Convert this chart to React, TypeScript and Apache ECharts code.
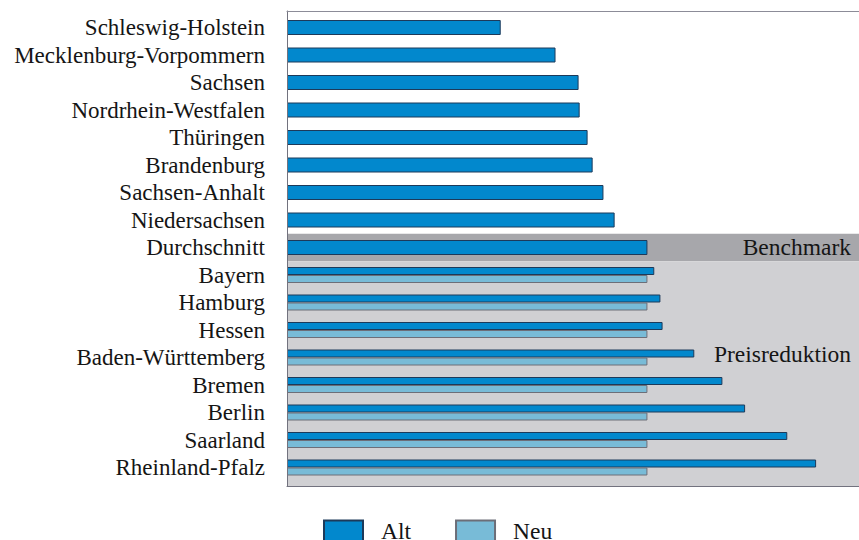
import React, { useEffect, useRef } from "react";
import * as echarts from "echarts";

const categories = [
  "Schleswig-Holstein",
  "Mecklenburg-Vorpommern",
  "Sachsen",
  "Nordrhein-Westfalen",
  "Thüringen",
  "Brandenburg",
  "Sachsen-Anhalt",
  "Niedersachsen",
  "Durchschnitt",
  "Bayern",
  "Hamburg",
  "Hessen",
  "Baden-Württemberg",
  "Bremen",
  "Berlin",
  "Saarland",
  "Rheinland-Pfalz",
];

// Index values (Durchschnitt = 100)
const altValues = [59.3, 74.5, 80.9, 81.2, 83.4, 84.8, 87.8, 90.9, 100, 101.9, 103.6, 104.2, 113.0, 120.8, 127.1, 138.8, 146.8];
const neuValues: (number | null)[] = [null, null, null, null, null, null, null, null, null, 100, 100, 100, 100, 100, 100, 100, 100];

const benchmarkLabel = "Benchmark";
const reductionLabel = "Preisreduktion";
const benchmarkIndex = 8;

const FONT = "'Liberation Serif', 'Times New Roman', serif";
const TEXT = "#151515";
const ALT_COLOR = "#0288cd";
const ALT_BORDER = "#1d3a5a";
const NEU_COLOR = "#78bbd7";
const NEU_BORDER = "#6c6e78";
const FRAME = "#72727e";
const BAND_DARK = "#a7a7ab";
const BAND_LIGHT = "#d0d0d3";

export default function App() {
  const ref = useRef<HTMLDivElement>(null);
  useEffect(() => {
    if (!ref.current) return;
    const chart = echarts.init(ref.current, null, { renderer: "svg" });

    const altSingle = altValues.map((v, i) => (neuValues[i] == null ? v : null));
    const altPair = altValues.map((v, i) => (neuValues[i] == null ? null : v));
    const n = categories.length;
    const bandMax = n + 0.173;

    const hiddenAxis = {
      axisTick: { show: false },
      axisLabel: { show: false },
      splitLine: { show: false },
    };

    chart.setOption({
      animation: false,
      backgroundColor: "#ffffff",
      grid: [
        { left: 287, right: -1, top: 11, bottom: 54 },
        { left: 287, right: -1, top: 13.75, height: 467.5 },
      ],
      xAxis: [
        {
          gridIndex: 0, type: "value", min: 0, max: 1, position: "bottom", z: 10,
          axisLine: { show: true, onZero: false, lineStyle: { color: FRAME, width: 1 } },
          ...hiddenAxis,
        },
        {
          gridIndex: 0, type: "value", min: 0, max: 1, position: "top", z: 10,
          axisLine: { show: true, onZero: false, lineStyle: { color: "#8c8c98", width: 1 } },
          ...hiddenAxis,
        },
        { gridIndex: 1, type: "value", min: 0, max: 158.7, show: false },
      ],
      yAxis: [
        {
          gridIndex: 0, type: "value", inverse: true, min: -0.1, max: bandMax, z: 10,
          axisLine: { show: true, onZero: false, lineStyle: { color: FRAME, width: 1 } },
          ...hiddenAxis,
        },
        {
          gridIndex: 1, type: "category", data: categories, inverse: true,
          axisLine: { show: false }, axisTick: { show: false }, splitLine: { show: false },
          axisLabel: { interval: 0, margin: 22, fontSize: 23, fontFamily: FONT, color: TEXT },
        },
        { gridIndex: 1, type: "category", data: categories, inverse: true, show: false },
      ],
      legend: {
        data: ["Alt", "Neu"],
        left: 323,
        top: 519,
        padding: 0,
        itemWidth: 39,
        itemHeight: 21,
        itemGap: 44,
        icon: "rect",
        selectedMode: false,
        textStyle: { fontSize: 23.5, lineHeight: 18, fontFamily: FONT, color: TEXT, padding: [0, 0, 4, 13] },
      },
      series: [
        {
          type: "scatter",
          xAxisIndex: 0,
          yAxisIndex: 0,
          symbolSize: 0,
          silent: true,
          data: [[0.5, -0.05]],
          markArea: {
            silent: true,
            data: [
              [
                {
                  yAxis: benchmarkIndex,
                  itemStyle: { color: BAND_DARK, opacity: 1 },
                  label: {
                    show: true, formatter: benchmarkLabel, position: "insideRight", distance: 8,
                    fontSize: 23.5, fontFamily: FONT, color: TEXT,
                  },
                },
                { yAxis: benchmarkIndex + 1 },
              ],
              [
                {
                  yAxis: benchmarkIndex + 1,
                  itemStyle: { color: BAND_LIGHT, opacity: 1 },
                  label: {
                    show: true, formatter: reductionLabel, position: "insideRight", distance: 8,
                    offset: [0, -20],
                    fontSize: 23.5, fontFamily: FONT, color: TEXT,
                  },
                },
                { yAxis: bandMax },
              ],
            ],
          },
        },
        {
          name: "Alt", type: "bar", xAxisIndex: 2, yAxisIndex: 1, data: altSingle,
          barWidth: 15, silent: true,
          itemStyle: { color: ALT_COLOR, borderColor: ALT_BORDER, borderWidth: 1 },
        },
        {
          name: "Alt", type: "bar", xAxisIndex: 2, yAxisIndex: 2, data: altPair,
          barWidth: 8, barGap: "0%", silent: true,
          itemStyle: { color: ALT_COLOR, borderColor: ALT_BORDER, borderWidth: 1 },
        },
        {
          name: "Neu", type: "bar", xAxisIndex: 2, yAxisIndex: 2, data: neuValues,
          barWidth: 8, barGap: "0%", silent: true,
          itemStyle: { color: NEU_COLOR, borderColor: NEU_BORDER, borderWidth: 1 },
        },
      ],
    });
    return () => chart.dispose();
  }, []);
  return (
    <div
      ref={ref}
      style={{ position: "fixed", left: 0, top: 0, width: 859, height: 540, background: "#fff" }}
    />
  );
}
